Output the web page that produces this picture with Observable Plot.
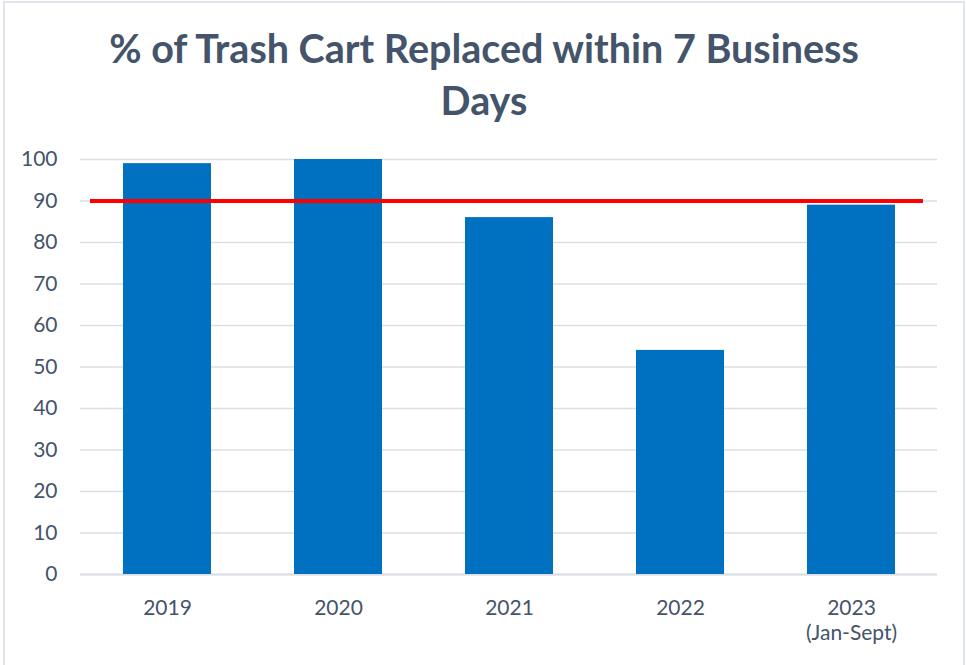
<!DOCTYPE html>
<html>
<head>
<meta charset="utf-8">
<script src="https://cdn.jsdelivr.net/npm/d3@7"></script>
<script src="https://cdn.jsdelivr.net/npm/@observablehq/plot@0.6"></script>
<style>
  html, body { margin: 0; padding: 0; background: #fff; }
  #wrap { position: relative; width: 966px; height: 665px; overflow: hidden; }
  #frame { position: absolute; left: 3px; top: 1px; width: 962px; height: 700px; box-sizing: border-box; border: 2px solid #e1e5eb; }
  #title { position: absolute; left: 0; top: 22px; width: 968px; text-align: center; font-family: Lato, sans-serif; font-weight: 700; font-size: 39.5px; line-height: 52px; color: #44546A; margin: 0; }
  #chart { position: absolute; left: 0; top: 0; }
</style>
</head>
<body>
<div id="wrap">
  <div id="frame"></div>
  <h1 id="title">% of Trash Cart Replaced within 7 Business<br>Days</h1>
  <div id="chart"></div>
</div>
<script>
const years = ["2019", "2020", "2021", "2022", "2023"];
const yearLabels = ["2019", "2020", "2021", "2022", "2023\n(Jan-Sept)"];
const values = [99, 100, 86, 54, 89];
const target = [90];
const yTicks = [0, 10, 20, 30, 40, 50, 60, 70, 80, 90, 100];

const data = years.map((y, i) => ({year: y, value: values[i]}));
const labelOf = new Map(years.map((y, i) => [y, yearLabels[i]]));

const chart = Plot.plot({
  width: 966,
  height: 665,
  marginLeft: 80,
  marginRight: 29,
  marginTop: 159,
  marginBottom: 91,
  style: {fontFamily: "Lato, sans-serif", fontSize: "21px", color: "#44546A", background: "transparent"},
  x: {domain: years, paddingInner: 0.486, paddingOuter: 0.243, label: null},
  y: {domain: [0, 100], label: null},
  marks: [
    Plot.gridY(yTicks, {stroke: "#dadfe6", strokeOpacity: 1, strokeWidth: 1.4}),
    Plot.ruleY([0], {stroke: "#d9dee5", strokeWidth: 2}),
    Plot.barY(data, {x: "year", y: "value", fill: "#0070C0"}),
    Plot.ruleY(target, {stroke: "#FF0000", strokeWidth: 4, insetLeft: 10, insetRight: 14}),
    Plot.axisY({ticks: yTicks, tickSize: 0, tickPadding: 23, fill: "#44546A", fontSize: 21, label: null}),
    Plot.axisX({tickSize: 0, tickPadding: 23, fill: "#44546A", fontSize: 21, lineHeight: 1.19, tickFormat: d => labelOf.get(d), label: null})
  ]
});
document.getElementById("chart").appendChild(chart);
</script>
</body>
</html>
